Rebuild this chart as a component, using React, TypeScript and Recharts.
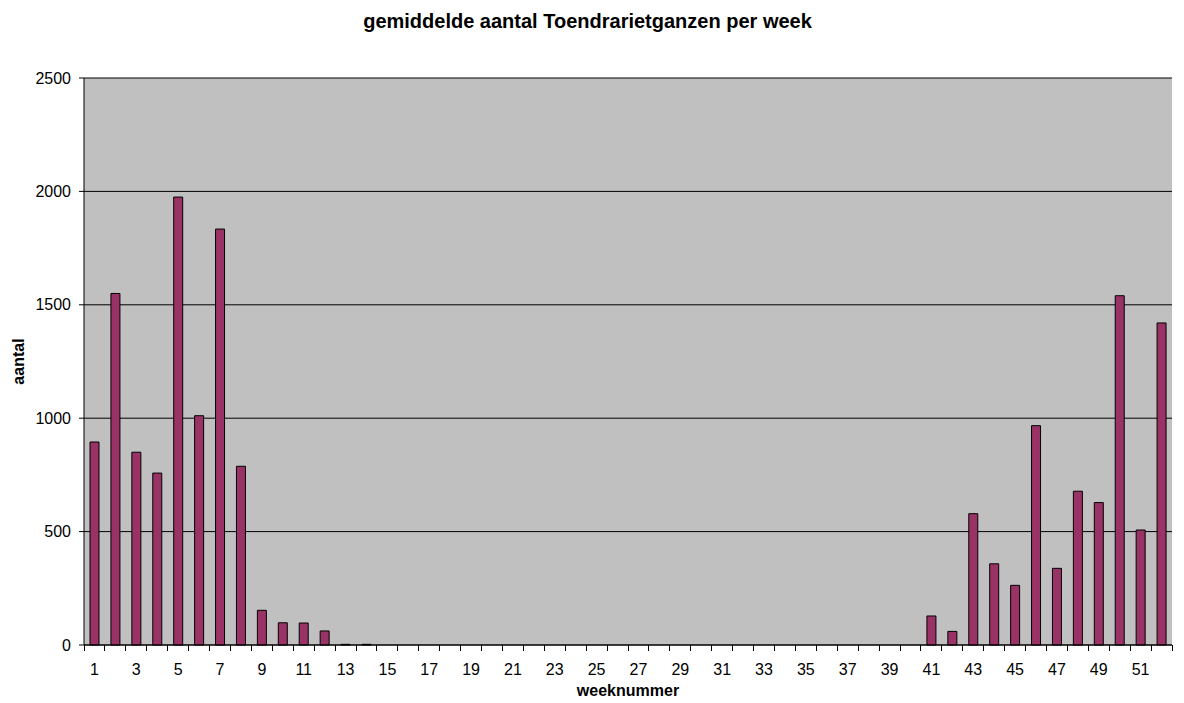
import { BarChart, Bar, XAxis, YAxis, CartesianGrid, Label } from "recharts";

const weeks = [
  1, 2, 3, 4, 5, 6, 7, 8, 9, 10, 11, 12, 13, 14, 15, 16, 17, 18, 19, 20, 21, 22, 23, 24, 25, 26,
  27, 28, 29, 30, 31, 32, 33, 34, 35, 36, 37, 38, 39, 40, 41, 42, 43, 44, 45, 46, 47, 48, 49, 50, 51, 52,
];

const aantal = [
  895, 1550, 850, 758, 1975, 1011, 1834, 788, 153, 98, 97, 62, 3, 3, 0, 0, 0, 0, 0, 0, 0, 0, 0, 0, 0, 0,
  0, 0, 0, 0, 0, 0, 0, 0, 0, 0, 0, 0, 0, 0, 128, 60, 579, 358, 263, 967, 338, 678, 628, 1540, 507, 1420,
];

const yTicks = [0, 500, 1000, 1500, 2000, 2500];

const data = weeks.map((w, i) => ({ week: w, aantal: aantal[i] }));

const font = "Arial, 'Liberation Sans', sans-serif";
const TICK_SIZE = 6;
const TICK_MARGIN = 13;

// snap to the pixel grid so the 1px tick marks stay crisp
const crisp = (v: number) => Math.round(v) + 0.5;

// Excel style: tick marks between the weeks, a label on every other week
const WeekTick = (props: any) => {
  const { x, y, payload, index, visibleTicksCount, width } = props;
  const half = payload.offset || width / visibleTicksCount / 2;
  const axisY = y - TICK_SIZE - TICK_MARGIN;
  const left = crisp(x - half - 0.5);
  const right = crisp(x + half - 0.5);
  return (
    <g>
      <line x1={left} x2={left} y1={axisY} y2={axisY + 6} stroke="#000" strokeWidth={1} />
      {index === visibleTicksCount - 1 && (
        <line x1={right} x2={right} y1={axisY} y2={axisY + 6} stroke="#000" strokeWidth={1} />
      )}
      {index % 2 === 0 && (
        <text x={x} y={y} dy="0.71em" textAnchor="middle" fill="#000" fontSize={16} fontFamily={font}>
          {payload.value}
        </text>
      )}
    </g>
  );
};

export default function App() {
  return (
    <div style={{ position: "absolute", left: 0, top: 0, width: 1184, height: 703, background: "#fff" }}>
      <div
        style={{
          position: "absolute",
          top: 10,
          left: 0,
          width: 1175,
          textAlign: "center",
          fontFamily: font,
          fontWeight: "bold",
          fontSize: 20,
        }}
      >
        gemiddelde aantal Toendrarietganzen per week
      </div>
      <BarChart
        width={1184}
        height={703}
        data={data}
        margin={{ top: 78, right: 12, left: 0, bottom: 0 }}
        barCategoryGap="0%"
      >
        <CartesianGrid vertical={false} stroke="#000" fill="#C0C0C0" fillOpacity={1} />
        <XAxis
          dataKey="week"
          height={58}
          interval={0}
          stroke="#000"
          tickLine={false}
          tickSize={TICK_SIZE}
          tickMargin={TICK_MARGIN}
          tick={<WeekTick />}
        >
          <Label
            value="weeknummer"
            position="insideBottom"
            offset={7}
            style={{ fill: "#000", fontSize: 16, fontWeight: "bold", fontFamily: font }}
          />
        </XAxis>
        <YAxis
          width={84}
          domain={[0, 2500]}
          ticks={yTicks}
          tickSize={5}
          tickMargin={8}
          stroke="#000"
          tick={{ fill: "#000", fontSize: 16, fontFamily: font }}
        >
          <Label
            value="aantal"
            angle={-90}
            position="insideLeft"
            offset={18}
            style={{ fill: "#000", fontSize: 16, fontWeight: "bold", fontFamily: font, textAnchor: "middle" }}
          />
        </YAxis>
        <YAxis yAxisId="right" orientation="right" width={0} tick={false} tickLine={false} stroke="#808080" />
        <Bar dataKey="aantal" fill="#993366" stroke="#000" strokeWidth={1} barSize={9} isAnimationActive={false} />
      </BarChart>
    </div>
  );
}
